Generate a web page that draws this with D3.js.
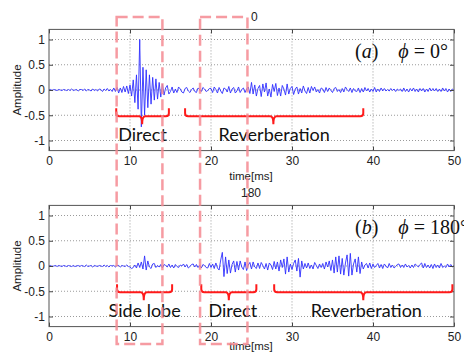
<!DOCTYPE html>
<html>
<head>
<meta charset="utf-8">
<script src="https://cdn.jsdelivr.net/npm/d3@7"></script>
<style>
  body { margin: 0; background: #fff; }
  svg { display: block; }
  .tick text { font-family: "Liberation Sans", Arial, sans-serif; font-size: 12px; fill: #222; }
  .tick line { stroke: #444; }
  .grid line { stroke: #9a9a9a; stroke-dasharray: 1,2; }
  .note { font-family: Lato, "Open Sans", sans-serif; font-size: 18px; fill: #111; }
  .math { font-family: "Liberation Serif", "DejaVu Serif", serif; font-size: 20px; fill: #111; }
</style>
</head>
<body>
<div id="chart"></div>
<script>
// sampled every 0.2 ms, 0..50 ms
const dt = 0.2;
const xTicks = [0, 10, 20, 30, 40, 50];
const yTicks = [-1, -0.5, 0, 0.5, 1];

const phi0 = [
  0.00,0.01,-0.01,0.01,0.00,-0.01,0.01,0.00,-0.01,0.01,
  0.00,-0.01,0.01,-0.01,0.02,-0.01,0.00,0.01,-0.02,0.01,
  0.01,-0.01,0.02,-0.02,0.01,0.00,-0.02,0.02,-0.01,0.01,
  -0.02,0.02,0.01,-0.03,0.02,-0.01,0.03,-0.02,0.01,-0.03,
  0.04,-0.03,0.05,-0.06,0.04,-0.05,0.07,-0.04,0.08,-0.07,
  0.10,-0.12,0.20,-0.25,0.30,-0.38,1.00,-0.73,0.45,-0.50,
  0.40,-0.35,0.30,-0.28,0.25,-0.20,0.22,-0.18,0.15,-0.14,
  0.12,-0.10,0.04,0.09,-0.08,-0.03,0.06,-0.06,0.02,-0.05,
  0.06,0.02,-0.04,-0.06,0.03,0.05,-0.02,-0.05,0.01,0.04,
  -0.03,-0.05,0.04,0.01,-0.03,0.05,0.02,-0.03,-0.01,0.03,
  0.03,-0.05,0.06,0.01,-0.06,0.05,-0.02,-0.07,0.04,0.02,
  -0.04,0.07,-0.06,0.02,0.05,-0.06,-0.02,0.06,-0.05,0.01,
  0.04,-0.05,0.02,0.06,-0.07,0.15,-0.08,0.10,-0.12,0.03,
  0.09,-0.13,0.12,-0.04,0.14,-0.12,0.02,-0.14,0.11,-0.03,
  0.13,-0.11,0.04,-0.12,0.09,0.02,-0.10,0.12,-0.08,0.03,
  0.07,-0.09,0.02,0.06,-0.08,0.03,-0.06,0.08,-0.02,-0.07,
  0.05,-0.06,0.07,-0.01,0.06,-0.04,0.01,-0.06,0.04,0.02,
  -0.05,0.05,-0.03,0.04,-0.01,-0.05,0.03,0.05,-0.03,0.01,
  -0.05,0.03,-0.04,0.06,0.01,-0.03,0.04,-0.05,0.03,-0.02,
  -0.03,0.04,-0.05,0.03,-0.04,0.05,-0.02,0.03,-0.04,0.02,
  -0.03,0.05,-0.04,0.02,-0.03,0.04,-0.02,0.03,-0.02,0.01,
  -0.02,0.03,-0.01,0.02,-0.03,0.02,-0.01,0.02,-0.03,0.04,
  -0.03,0.02,-0.04,0.03,-0.02,0.04,-0.03,0.02,-0.04,0.03,
  -0.02,0.03,-0.04,0.02,-0.03,0.04,-0.02,0.03,-0.02,0.03,
  -0.03,0.02,-0.03,0.04,-0.02,0.03,-0.04,0.02,-0.03,0.02,-0.01
];

const phi180 = [
  0.00,0.01,-0.01,0.00,0.01,-0.01,0.01,0.00,-0.01,0.01,
  0.00,-0.01,0.01,0.00,-0.01,0.01,-0.01,0.00,0.01,-0.01,
  0.01,0.00,-0.01,0.02,-0.01,0.00,0.01,-0.02,0.01,0.00,
  -0.01,0.01,0.00,-0.01,0.02,-0.01,0.01,-0.02,0.01,0.00,
  0.01,-0.02,0.01,0.01,-0.02,0.01,0.00,-0.01,0.02,-0.01,
  -0.02,-0.05,-0.03,0.02,-0.04,0.06,-0.03,0.08,-0.06,0.20,
  -0.08,0.10,-0.02,-0.05,0.04,0.05,-0.03,0.01,-0.02,0.03,
  -0.04,0.03,0.01,-0.02,0.04,-0.03,0.02,-0.04,0.03,-0.01,
  -0.03,0.02,0.00,0.04,-0.02,0.03,-0.04,-0.01,0.03,0.04,
  -0.02,0.03,-0.03,0.02,-0.04,0.03,0.01,-0.03,-0.04,0.05,
  -0.03,0.04,-0.05,0.06,-0.04,-0.08,0.12,0.27,-0.21,0.18,
  -0.15,0.12,-0.14,0.03,0.10,-0.12,0.09,-0.08,0.10,-0.02,
  -0.07,0.08,-0.09,0.02,0.07,-0.06,0.08,-0.02,-0.05,0.06,
  -0.05,0.07,0.01,-0.06,0.05,-0.08,0.06,0.02,-0.07,0.09,
  -0.06,0.08,-0.10,0.12,-0.03,0.14,-0.16,0.18,-0.12,0.04,
  -0.07,0.05,0.12,-0.10,0.15,-0.22,0.10,-0.06,0.05,-0.04,
  0.06,-0.05,0.02,-0.06,0.07,0.01,-0.05,0.04,-0.03,0.05,
  -0.06,0.08,-0.02,0.10,-0.09,0.12,-0.14,0.18,-0.12,0.20,
  -0.16,0.15,-0.18,0.06,0.22,-0.20,0.25,-0.18,0.04,0.14,
  -0.12,0.18,-0.15,0.08,-0.06,0.02,0.05,-0.04,0.06,-0.05,
  0.04,-0.03,0.01,0.05,-0.04,0.03,-0.05,0.04,0.00,-0.04,
  0.05,-0.03,0.02,-0.04,-0.01,0.03,0.04,-0.03,0.02,-0.03,
  0.04,-0.02,0.01,-0.04,0.02,-0.03,0.04,0.01,-0.02,0.03,
  0.06,-0.04,0.05,-0.03,0.02,-0.04,0.03,-0.05,0.04,-0.03,
  0.02,-0.04,0.05,-0.03,0.00,-0.03,0.04,-0.02,0.03,-0.02,0.01
];

// braces: start, tip, end in ms, with label
const bracesTop = [
  { label: "Direct", from: 8.3, tip: 11.5, to: 14.8 },
  { label: "Reverberation", from: 16.8, tip: 27.7, to: 38.8 }
];
const bracesBot = [
  { label: "Side lobe", from: 8.4, tip: 11.7, to: 15.2 },
  { label: "Direct", from: 18.8, tip: 22.2, to: 25.6 },
  { label: "Reverberation", from: 27.8, tip: 38.8, to: 49.8 }
];
// dashed windows [start, end] in ms
const windows = [[8.35, 14.0], [18.65, 24.5]];

const width = 464, height = 354;
const svg = d3.select("#chart").append("svg")
  .attr("width", width).attr("height", height);

const x = d3.scaleLinear().domain([0, 50]).range([49, 454]);

function panel(top, series, braces, title, labelDx) {
  const y = d3.scaleLinear().domain([-1.2, 1.2]).range([top + 121.2, top]);
  const g = svg.append("g");

  // grid
  const grid = g.append("g").attr("class", "grid");
  grid.selectAll(".gx").data(xTicks.slice(1, -1)).enter().append("line")
    .attr("x1", d => x(d)).attr("x2", d => x(d))
    .attr("y1", y(1.2)).attr("y2", y(-1.2));
  grid.selectAll(".gy").data(yTicks).enter().append("line")
    .attr("x1", x(0)).attr("x2", x(50))
    .attr("y1", d => y(d)).attr("y2", d => y(d));

  // signal
  const line = d3.line().x((d, i) => x(i * dt)).y(d => y(d));
  g.append("path").datum(series)
    .attr("d", line)
    .attr("fill", "none")
    .attr("stroke", "#2f2fff")
    .attr("stroke-width", 0.9);

  // axes, ticks pointing in
  const fmt = d => String(d);
  g.append("g").attr("transform", `translate(0,${y(-1.2)})`)
    .call(d3.axisBottom(x).tickValues(xTicks).tickSize(-4).tickPadding(6).tickFormat(fmt))
    .call(a => a.select(".domain").remove());
  g.append("g").attr("transform", `translate(0,${y(1.2)})`)
    .call(d3.axisTop(x).tickValues(xTicks).tickSize(-4).tickFormat(""))
    .call(a => a.select(".domain").remove());
  g.append("g").attr("transform", `translate(${x(0)},0)`)
    .call(d3.axisLeft(y).tickValues(yTicks).tickSize(-4).tickPadding(4).tickFormat(fmt))
    .call(a => a.select(".domain").remove());
  g.append("g").attr("transform", `translate(${x(50)},0)`)
    .call(d3.axisRight(y).tickValues(yTicks).tickSize(-4).tickFormat(""))
    .call(a => a.select(".domain").remove());

  g.append("rect")
    .attr("x", x(0)).attr("y", y(1.2))
    .attr("width", x(50) - x(0)).attr("height", y(-1.2) - y(1.2))
    .attr("fill", "none").attr("stroke", "#555").attr("stroke-width", 1);

  g.append("text")
    .attr("transform", `translate(21,${y(0)}) rotate(-90)`)
    .attr("text-anchor", "middle")
    .style("font-family", "Liberation Sans, Arial, sans-serif")
    .style("font-size", "11.5px")
    .attr("fill", "#222")
    .text("Amplitude");

  g.append("text")
    .attr("x", 251).attr("y", Math.min(y(-1.2) + 29, 350))
    .attr("text-anchor", "middle")
    .style("font-family", "Liberation Sans, Arial, sans-serif")
    .style("font-size", "11.5px")
    .attr("fill", "#222")
    .text("time[ms]");

  // braces
  const by = top + 86.8, rise = 8, drop = 8, r = 3;
  g.selectAll(".brace").data(braces).enter().append("path")
    .attr("fill", "none").attr("stroke", "#ff1a1a").attr("stroke-width", 2)
    .attr("d", d => {
      const a = x(d.from), m = x(d.tip), b = x(d.to);
      return `M${a},${by - rise} L${a},${by - r} Q${a},${by} ${a + r},${by}` +
        ` L${m - r},${by} Q${m},${by} ${m},${by + drop}` +
        ` Q${m},${by} ${m + r},${by} L${b - r},${by} Q${b},${by} ${b},${by - r} L${b},${by - rise}`;
    });
  g.selectAll(".note").data(braces).enter().append("text")
    .attr("class", "note")
    .attr("x", (d, i) => x((d.from + d.to) / 2) + labelDx[i])
    .attr("y", by + 25)
    .attr("text-anchor", "middle")
    .text(d => d.label);

  const t = g.append("text").attr("class", "math")
    .attr("x", 355).attr("y", top + 29);
  t.append("tspan").text("(");
  t.append("tspan").style("font-style", "italic").text(title[0]);
  t.append("tspan").text(")\u2003");
  t.append("tspan").style("font-style", "italic").text("\u03d5");
  t.append("tspan").text(" = " + title[1] + "\u00b0");
}

panel(29.4, phi0, bracesTop, ["a", "0"], [0, 0]);
panel(205.4, phi180, bracesBot, ["b", "180"], [0, 4, 3]);

// dashed windows spanning both plots
const win = svg.append("g")
  .attr("fill", "none")
  .attr("stroke", "#f58a92")
  .attr("stroke-opacity", 0.85)
  .attr("stroke-width", 2.5)
  .attr("stroke-dasharray", "11,5");
win.selectAll("rect").data(windows).enter().append("rect")
  .attr("x", d => x(d[0])).attr("y", 17)
  .attr("width", d => x(d[1]) - x(d[0])).attr("height", 327);

svg.append("text").attr("x", 251).attr("y", 21)
  .attr("text-anchor", "start")
  .style("font-family", "Liberation Sans, Arial, sans-serif")
  .style("font-size", "12px").attr("fill", "#222")
  .text("0");
svg.append("text").attr("x", 251).attr("y", 197)
  .attr("text-anchor", "middle")
  .style("font-family", "Liberation Sans, Arial, sans-serif")
  .style("font-size", "12px").attr("fill", "#222")
  .text("180");
</script>
</body>
</html>
